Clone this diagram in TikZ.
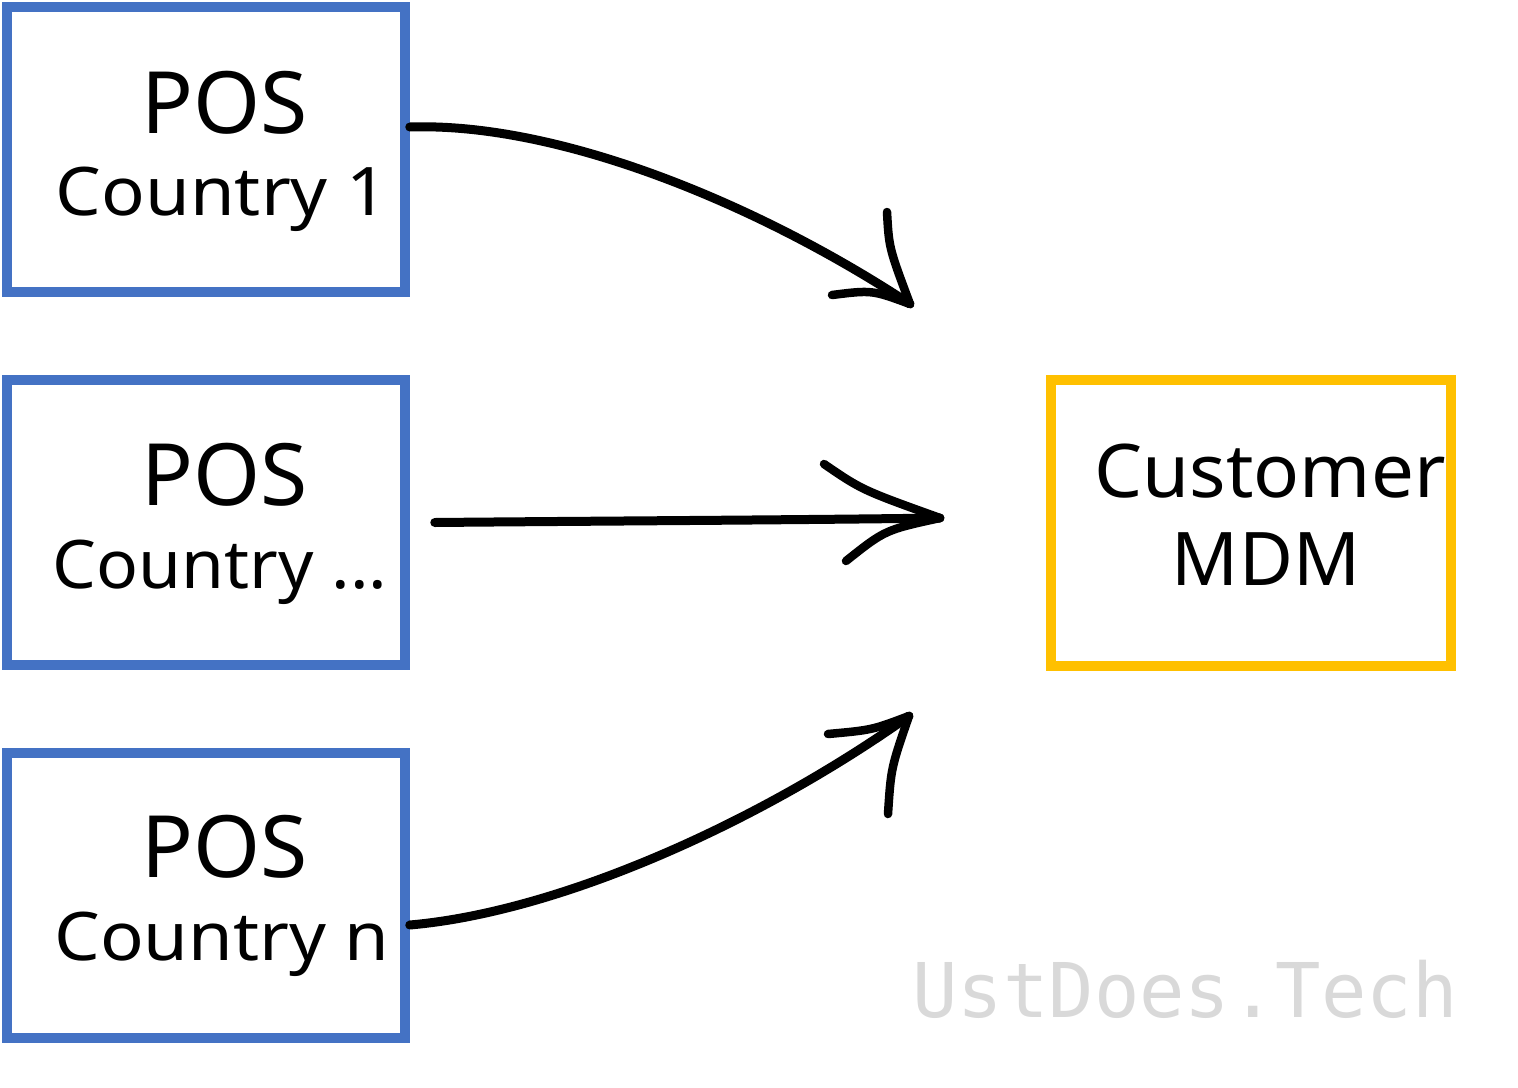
\documentclass[tikz,border=0pt]{standalone}
\usepackage{fontspec}
\setmainfont{Noto Sans}
\newfontfamily\wmfont{DejaVu Sans Mono}
\definecolor{posblue}{HTML}{4472C4}
\definecolor{mdmyellow}{HTML}{FFC000}
\definecolor{wmgray}{HTML}{D9D9D9}
\begin{document}
\begin{tikzpicture}[x=1pt,y=-1pt,
  posbox/.style={draw=posblue,line width=9.5pt,rectangle,inner sep=0pt,minimum width=398pt,minimum height=285pt},
  mdmbox/.style={draw=mdmyellow,line width=9.5pt,rectangle,inner sep=0pt,minimum width=400pt,minimum height=286pt},
  bigtxt/.style={anchor=base,inner sep=0pt,font=\fontsize{86}{90}\selectfont},
  midtxt/.style={anchor=base,inner sep=0pt,xscale=1.08,font=\fontsize{67}{72}\selectfont},
  conn/.style={draw=black,line width=9pt,line cap=round,line join=round},
  headstroke/.style={draw=black,line width=8.5pt,line cap=round}]
\useasboundingbox (0,0) rectangle (1518,1087);
% boxes
\node[posbox] (b1) at (206,149.5) {};
\node[posbox] (b2) at (206,522.5) {};
\node[posbox] (b3) at (206,895.5) {};
\node[mdmbox] (mdm) at (1251,523) {};
% texts
\node[bigtxt] (p1) at (225,133) {POS};
\node[midtxt] (c1) at (222,215) {Country 1};
\node[bigtxt] (p2) at (225,505) {POS};
\node[midtxt,xscale=0.96] (c2) at (220,588) {Country ...};
\node[bigtxt] (p3) at (225,877) {POS};
\node[midtxt] (c3) at (222,960) {Country n};
\node[anchor=base,inner sep=0pt,xscale=1.03,font=\fontsize{74}{80}\selectfont] (m1) at (1270,497) {Customer};
\node[anchor=base,inner sep=0pt,font=\fontsize{74}{80}\selectfont] (m2) at (1266,585) {MDM};
\node[anchor=base west,inner sep=0pt,text=wmgray,font=\wmfont\fontsize{75.5}{80}\selectfont] (wm) at (912,1017) {UstDoes.Tech};
% arrow tips
\coordinate (t1) at (910,304);
\coordinate (t2) at (940,518);
\coordinate (t3) at (909,716);
% connectors
\draw[conn] ([yshift=22.5pt]b1.east) .. controls (560,122) and (760,205) .. (t1);
\draw[conn] ([xshift=25pt]b2.east) .. controls (600,521) and (800,520) .. (t2);
\draw[conn] ([yshift=-29.5pt]b3.east) .. controls (560,912) and (760,822) .. (t3);
% arrow heads
\draw[headstroke] (887,212) .. controls (889,248) .. (t1);
\draw[headstroke] (832,295) .. controls (872,290) .. (t1);
\draw[headstroke] (824,464) .. controls (862,490) .. (t2);
\draw[headstroke] (846,561) .. controls (885,530) .. (t2);
\draw[headstroke] (828,734) .. controls (872,730) .. (t3);
\draw[headstroke] (888,814) .. controls (891,768) .. (t3);
\end{tikzpicture}
\end{document}
